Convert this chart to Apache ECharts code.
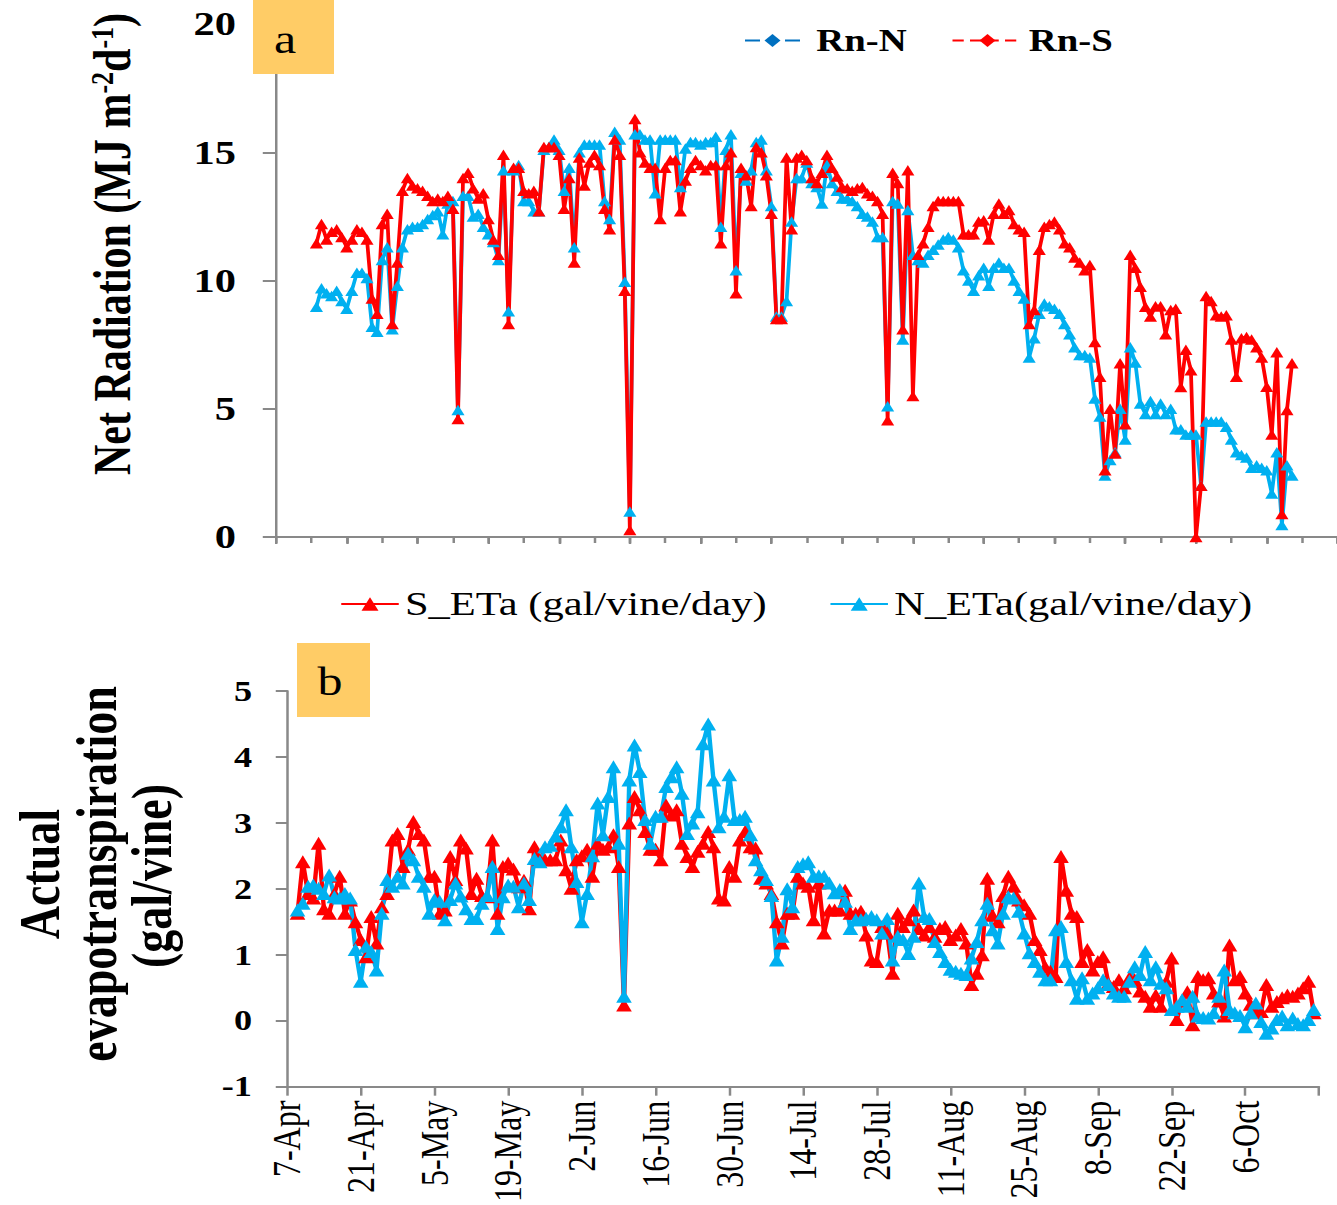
<!DOCTYPE html>
<html>
<head>
<meta charset="utf-8">
<title>Net radiation and actual evapotranspiration</title>
<script src="https://cdn.jsdelivr.net/npm/echarts@6/dist/echarts.min.js"></script>
<style>
  html, body { margin: 0; padding: 0; background: #fff; overflow: hidden; }
  /* the source figure is stretched sideways, so draw it narrow and widen it */
  #chart { width: 1070px; height: 1205px; transform: scaleX(1.25); transform-origin: 0 0; }
</style>
</head>
<body>
<div id="chart"></div>
<script>
const SERIF = "'Liberation Serif', 'Times New Roman', serif"
const RED = '#FF0000'
const BLUE = '#00B0F0'
const AXIS = '#898989'

// daily values, 9-Apr .. 19-Oct
const rnS = [
  11.45, 12.2, 11.6, 11.9, 12.0, 11.7, 11.3, 11.6, 12.0, 11.9,
  11.6, 9.3, 8.7, 12.2, 12.6, 8.3, 10.7, 13.5, 14.0, 13.7,
  13.6, 13.5, 13.3, 13.1, 13.2, 13.1, 13.3, 12.8, 4.6, 14.0,
  14.2, 13.6, 13.2, 13.4, 12.4, 11.6, 11.0, 14.9, 8.3, 14.4,
  14.4, 13.5, 13.4, 13.5, 12.7, 15.2, 15.2, 15.2, 14.9, 12.8,
  14.0, 10.7, 14.8, 13.7, 14.6, 14.9, 14.5, 12.8, 12.0, 15.5,
  14.9, 9.6, 0.27, 16.3, 15.0, 14.6, 14.4, 14.4, 12.4, 14.4,
  14.7, 14.7, 12.7, 13.9, 14.4, 14.7, 14.5, 14.3, 14.5, 14.5,
  11.45, 14.5, 15.0, 9.5, 14.4, 14.1, 12.9, 15.2, 15.0, 14.1,
  12.6, 8.5, 8.5, 14.8, 12.0, 14.8, 14.9, 14.7, 14.0, 13.8,
  14.2, 14.9, 14.4, 14.05, 13.65, 13.6, 13.5, 13.6, 13.65, 13.4,
  13.3, 13.1, 12.6, 4.55, 14.2, 13.8, 8.1, 14.3, 5.5, 11.0,
  11.45, 12.1, 12.9, 13.1, 13.1, 13.1, 13.1, 13.1, 11.8, 11.8,
  11.8, 12.3, 12.35, 11.6, 12.6, 13.0, 12.6, 12.75, 12.2, 12.0,
  11.9, 8.3, 8.85, 11.2, 12.1, 12.2, 12.3, 12.0, 11.45, 11.3,
  10.9, 10.7, 10.4, 10.6, 7.6, 6.25, 2.6, 5.0, 3.26, 6.77,
  4.4, 11.0, 10.5, 9.76, 8.98, 8.6, 9.0, 9.0, 7.9, 8.85,
  8.9, 5.85, 7.3, 6.5, 0.0, 2.0, 9.4, 9.2, 8.65, 8.6,
  8.65, 7.7, 6.25, 7.75, 7.8, 7.7, 7.4, 7.0, 5.86, 4.0,
  7.2, 0.9, 4.95, 6.77
]
const rnN = [
  8.98, 9.7, 9.5, 9.4, 9.6, 9.2, 8.9, 9.6, 10.3, 10.3,
  10.1, 8.2, 8.0, 10.8, 11.3, 8.1, 9.8, 11.3, 12.0, 12.1,
  12.1, 12.2, 12.4, 12.55, 12.7, 11.8, 13.0, 13.1, 4.95, 13.3,
  13.3, 12.5, 12.6, 12.1, 11.8, 11.5, 10.8, 14.3, 8.8, 14.3,
  14.5, 13.1, 13.1, 12.7, 12.7, 15.1, 15.2, 15.5, 15.1, 13.5,
  14.4, 11.3, 15.0, 15.3, 15.3, 15.3, 15.3, 13.1, 12.4, 15.8,
  15.5, 9.95, 0.99, 15.7, 15.7, 15.5, 15.5, 13.4, 15.5, 15.5,
  15.5, 15.5, 13.65, 15.15, 15.4, 15.4, 15.3, 15.4, 15.4, 15.6,
  12.1, 15.1, 15.7, 10.4, 14.2, 13.9, 14.3, 15.4, 15.5, 14.3,
  12.9, 8.6, 8.6, 9.2, 12.3, 14.0, 14.0, 14.6, 13.8, 13.65,
  13.0, 14.5, 13.8, 13.5, 13.2, 13.2, 13.1, 12.9, 12.6, 12.5,
  12.3, 11.7, 11.7, 5.1, 13.1, 13.0, 7.7, 12.75, 11.0, 10.8,
  10.7, 11.0, 11.2, 11.4, 11.6, 11.7, 11.6, 11.3, 10.4, 10.0,
  9.6, 10.2, 10.5, 9.8, 10.5, 10.7, 10.5, 10.5, 10.0, 9.6,
  9.3, 7.0, 7.75, 8.7, 9.1, 9.0, 8.9, 8.7, 8.3, 7.9,
  7.4, 7.1, 7.1, 7.0, 5.4, 4.7, 2.4, 3.0, 3.3, 5.0,
  3.8, 7.4, 6.8, 5.2, 4.8, 5.3, 4.8, 5.2, 4.8, 5.0,
  4.2, 4.2, 4.0, 4.0, 4.0, 2.0, 4.5, 4.5, 4.5, 4.5,
  4.3, 3.8, 3.3, 3.2, 3.1, 2.7, 2.8, 2.7, 2.6, 1.7,
  3.3, 0.47, 2.8, 2.4
]
const etaS = [
  1.63, 2.41, 1.93, 1.86, 2.69, 1.7, 1.63, 1.93, 2.19, 1.63,
  1.83, 1.5, 1.23, 0.97, 1.58, 1.18, 1.73, 1.93, 2.74, 2.84,
  2.34, 2.6, 3.02, 2.84, 2.74, 2.19, 2.19, 1.63, 1.68, 2.49,
  2.14, 2.74, 2.62, 1.93, 2.16, 1.9, 1.88, 2.74, 1.63, 2.34,
  2.39, 2.3, 2.03, 2.13, 1.7, 2.64, 2.44, 2.44, 2.44, 2.44,
  2.74, 2.29, 2.01, 2.44, 2.5, 2.6, 2.19, 2.69, 2.6, 2.64,
  2.82, 2.34, 0.24, 3.0, 3.4, 3.2, 2.87, 2.6, 2.6, 2.44,
  3.27, 3.12, 3.2, 2.69, 2.49, 2.34, 2.57, 2.69, 2.87, 2.64,
  1.86, 1.83, 2.34, 2.19, 2.74, 2.87, 2.64, 2.62, 2.16, 2.09,
  1.93, 1.5, 1.18, 1.63, 1.63, 2.19, 2.09, 2.04, 1.53, 2.09,
  1.33, 1.68, 1.68, 1.68, 1.98, 1.63, 1.63, 1.66, 1.3, 0.92,
  0.9, 1.43, 1.33, 0.72, 1.63, 1.43, 1.53, 1.68, 1.4, 1.3,
  1.43, 1.28, 1.4, 1.43, 1.23, 1.3, 1.4, 1.18, 0.55, 0.72,
  1.0, 2.16, 1.6, 1.5, 1.9, 2.19, 2.04, 1.83, 1.76, 1.63,
  1.23, 1.08, 0.82, 0.75, 0.67, 2.49, 1.98, 1.63, 1.58, 0.9,
  1.08, 0.77, 0.9, 0.97, 0.57, 0.52, 0.62, 0.5, 0.65, 0.62,
  0.45, 0.37, 0.22, 0.39, 0.22, 0.6, 0.95, 0.02, 0.3, 0.44,
  -0.06, 0.67, 0.62, 0.65, 0.42, 0.3, 0.07, 1.15, 0.62, 0.67,
  0.42, 0.25, 0.12, 0.14, 0.55, 0.22, 0.29, 0.35, 0.39, 0.37,
  0.42, 0.5, 0.6, 0.12
]
const etaN = [
  1.68, 1.78, 2.04, 2.06, 2.01, 1.93, 2.21, 1.88, 1.86, 1.93,
  1.86, 1.08, 0.6, 1.13, 1.05, 0.77, 1.63, 2.14, 2.04, 2.19,
  2.09, 2.54, 2.44, 2.19, 2.04, 1.63, 1.84, 1.81, 1.53, 1.84,
  2.09, 1.89, 1.7, 1.55, 1.55, 1.78, 1.9, 2.34, 1.4, 1.88,
  2.06, 2.04, 1.73, 2.09, 1.84, 2.46, 2.41, 2.64, 2.66, 2.8,
  2.94, 3.2, 2.64, 2.11, 1.5, 1.93, 2.5, 3.3, 2.82, 3.4,
  3.85, 2.69, 0.37, 3.65, 4.18, 3.78, 3.05, 2.69, 3.1, 3.1,
  3.55, 3.7, 3.85, 3.45, 2.84, 3.0, 3.17, 4.2, 4.5, 3.65,
  2.94, 3.1, 3.73, 3.05, 3.05, 3.1, 2.82, 2.44, 2.29, 2.14,
  1.9, 0.92, 1.28, 2.0, 1.73, 2.34, 2.38, 2.41, 2.19, 2.2,
  2.19, 2.09, 1.94, 1.99, 1.81, 1.4, 1.53, 1.53, 1.55, 1.58,
  1.53, 1.33, 1.55, 0.92, 1.28, 1.23, 1.02, 1.28, 2.09, 1.58,
  1.55, 1.2, 1.05, 0.9, 0.78, 0.75, 0.72, 0.7, 0.95, 1.2,
  1.53, 1.78, 1.38, 1.18, 1.63, 1.88, 1.86, 1.66, 1.33, 1.03,
  0.9, 0.75, 0.62, 0.62, 1.38, 1.43, 0.9, 0.62, 0.34, 0.65,
  0.34, 0.42, 0.5, 0.62, 0.55, 0.42, 0.37, 0.37, 0.6, 0.82,
  0.7, 1.05, 0.62, 0.82, 0.57, 0.5, 0.17, 0.22, 0.32, 0.22,
  0.37, 0.07, 0.05, 0.04, 0.12, 0.37, 0.77, 0.17, 0.12, 0.08,
  -0.09, 0.12, 0.27, -0.01, -0.19, -0.11, 0.02, 0.07, -0.06, 0.04,
  -0.04, -0.06, 0.02, 0.17
]

// tick labels of the lower date axis (every 14 days from 7-Apr)
const ticksB = ['7-Apr', '21-Apr', '5-May', '19-May', '2-Jun', '16-Jun', '30-Jun',
  '14-Jul', '28-Jul', '11-Aug', '25-Aug', '8-Sep', '22-Sep', '6-Oct']

const START_A = 8 // axis a begins 1-Apr, first reading 9-Apr
const START_B = 2 // axis b begins 7-Apr

const pairs = (vals, start) => vals.map((v, i) => [start + i, v])

function crossAxis(base, inside) {
  return Object.assign({}, base, {
    axisLine: { show: false },
    axisLabel: { show: false },
    axisTick: Object.assign({}, base.axisTick, { inside: inside })
  })
}

function buildOption() {
  const axisLine = { show: true, onZero: false, lineStyle: { color: AXIS, width: 2 } }
  const tickStyle = { color: AXIS, width: 2 }

  const yA = {
    type: 'value', gridIndex: 0, min: 0, max: 20, interval: 5,
    axisLine: axisLine,
    axisTick: { show: true, length: 10.5, lineStyle: tickStyle },
    axisLabel: { margin: 32, color: '#000', fontFamily: SERIF, fontWeight: 'bold', fontSize: 34 },
    splitLine: { show: false }
  }
  const xA = {
    type: 'value', gridIndex: 0, min: 0, max: 210, interval: 14,
    axisLine: axisLine,
    axisTick: { show: true, length: 7, lineStyle: tickStyle },
    axisLabel: { show: false },
    splitLine: { show: false }
  }
  const xAminor = crossAxis(Object.assign({}, xA, { interval: 7 }), true)
  xAminor.axisTick.length = 6

  const lineSeries = (name, vals, start, color, axis, size, width) => ({
    name: name,
    type: 'line',
    xAxisIndex: axis,
    yAxisIndex: axis === 0 ? 0 : 2,
    data: pairs(vals, start),
    symbol: 'triangle',
    symbolSize: size,
    showAllSymbol: true,
    itemStyle: { color: color },
    lineStyle: { color: color, width: width }
  })

  return {
    animation: false,
    backgroundColor: '#fff',
    grid: [
      { left: 220.8, top: 24, width: 850.4, height: 513 },
      { left: 229.6, top: 691, width: 825.6, height: 396 }
    ],
    xAxis: [
      xA,
      xAminor,
      {
        type: 'value', gridIndex: 1, min: 0, max: 196, interval: 14,
        axisLine: axisLine,
        axisTick: { show: true, length: 9, lineStyle: tickStyle },
        axisLabel: {
          rotate: 90, margin: 14, color: '#000', fontFamily: SERIF, fontSize: 32,
          formatter: v => ticksB[Math.round(v / 14)] || ''
        },
        splitLine: { show: false }
      }
    ],
    yAxis: [
      yA,
      crossAxis(yA, true),
      {
        type: 'value', gridIndex: 1, min: -1, max: 5, interval: 1,
        axisLine: axisLine,
        axisTick: { show: true, length: 9, lineStyle: tickStyle },
        axisLabel: { margin: 28, color: '#000', fontFamily: SERIF, fontWeight: 'bold', fontSize: 29 },
        splitLine: { show: false }
      }
    ],
    legend: [
      {
        data: ['Rn-N'], left: 590, top: 20, itemWidth: 44, itemHeight: 16,
        textStyle: { fontFamily: SERIF, fontWeight: 'bold', fontSize: 31, color: '#000', padding: [0, 0, 0, 8] }
      },
      {
        data: ['Rn-S'], left: 756, top: 20, itemWidth: 56, itemHeight: 16,
        textStyle: { fontFamily: SERIF, fontWeight: 'bold', fontSize: 31, color: '#000', padding: [0, 0, 0, 0] }
      },
      {
        data: ['S_ETa (gal/vine/day)', 'N_ETa(gal/vine/day)'], left: 267, top: 582,
        itemWidth: 46, itemHeight: 17, itemGap: 50,
        textStyle: { fontFamily: SERIF, fontSize: 34, color: '#000' }
      }
    ],
    series: [
      // legend keys of panel a (drawn as in the source: dashed with a diamond)
      {
        name: 'Rn-N', type: 'line', xAxisIndex: 0, yAxisIndex: 0, data: [],
        symbol: 'diamond', itemStyle: { color: '#0070C0' },
        lineStyle: { color: '#0070C0', width: 4, type: [12, 20] }
      },
      {
        name: 'Rn-S', type: 'line', xAxisIndex: 0, yAxisIndex: 0, data: [],
        symbol: 'diamond', itemStyle: { color: RED },
        lineStyle: { color: RED, width: 4, type: [9, 5] }
      },
      lineSeries('Rn-N', rnN, START_A, BLUE, 0, [10.5, 10.5], 3),
      lineSeries('Rn-S', rnS, START_A, RED, 0, [10.5, 10.5], 3),
      lineSeries('S_ETa (gal/vine/day)', etaS, START_B, RED, 2, [12.5, 13], 3.5),
      lineSeries('N_ETa(gal/vine/day)', etaN, START_B, BLUE, 2, [12.5, 13], 3.5)
    ],
    graphic: [
      { type: 'rect', z: 100, shape: { x: 202.4, y: 0, width: 64.8, height: 74 }, style: { fill: '#FFCC66' } },
      { type: 'text', z: 101, x: 228, y: 40, style: { text: 'a', fontFamily: SERIF, fontSize: 40, fill: '#000', align: 'center', verticalAlign: 'middle' } },
      { type: 'rect', z: 100, shape: { x: 237.6, y: 643, width: 58.4, height: 74 }, style: { fill: '#FFCC66' } },
      { type: 'text', z: 101, x: 264, y: 682, style: { text: 'b', fontFamily: SERIF, fontSize: 40, fill: '#000', align: 'center', verticalAlign: 'middle' } },
      {
        type: 'text', z: 101, x: 89.6, y: 475, rotation: Math.PI / 2,
        style: {
          text: '{b|Net Radiation (MJ m}{s|-2}{b|d}{s|-1}{b|)}',
          align: 'left', verticalAlign: 'middle',
          rich: {
            b: { fontFamily: SERIF, fontWeight: 'bold', fontSize: 42, fill: '#000' },
            s: { fontFamily: SERIF, fontWeight: 'bold', fontSize: 26, fill: '#000', verticalAlign: 'top' }
          }
        }
      },
      { type: 'text', z: 101, x: 32, y: 874, rotation: Math.PI / 2, style: { text: 'Actual', fontFamily: SERIF, fontWeight: 'bold', fontSize: 46, fill: '#000', align: 'center', verticalAlign: 'middle' } },
      { type: 'text', z: 101, x: 77.6, y: 874, rotation: Math.PI / 2, style: { text: 'evapotranspiration', fontFamily: SERIF, fontWeight: 'bold', fontSize: 46, fill: '#000', align: 'center', verticalAlign: 'middle' } },
      { type: 'text', z: 101, x: 121.6, y: 876, rotation: Math.PI / 2, style: { text: '(gal/vine)', fontFamily: SERIF, fontWeight: 'bold', fontSize: 46, fill: '#000', align: 'center', verticalAlign: 'middle' } }
    ]
  }
}

const chart = echarts.init(document.getElementById('chart'), null, { renderer: 'svg' })
chart.setOption(buildOption())
</script>
</body>
</html>
